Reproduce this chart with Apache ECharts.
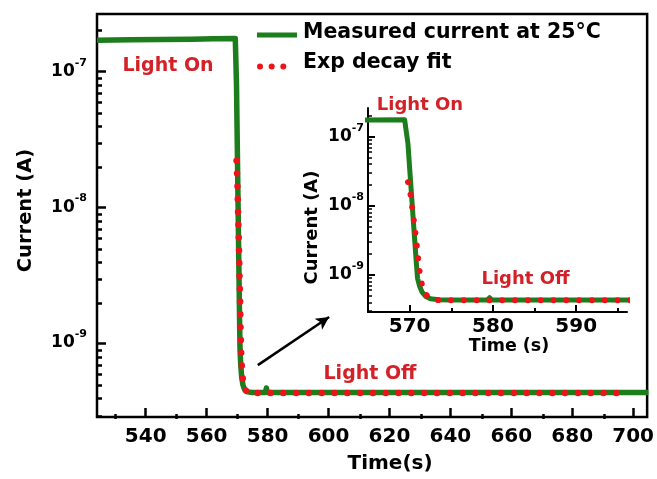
<!DOCTYPE html>
<html>
<head>
<meta charset="utf-8">
<script src="https://cdn.jsdelivr.net/npm/echarts@6/dist/echarts.min.js"></script>
<style>
  html, body { margin: 0; padding: 0; background: #ffffff; }
  #chart { width: 657px; height: 479px; }
</style>
</head>
<body>
<div id="chart"></div>
<script>
// Photocurrent transient: measured current and exponential-decay fit (seconds, amperes)
const measuredTime = [524, 535, 545, 555, 562, 569.4, 569.6, 569.8, 570.0, 570.2, 570.4, 570.6, 570.8, 570.95,
  571.2, 571.5, 571.9, 572.5, 573.5, 575, 578, 579.3, 579.6, 579.9, 582, 590, 600, 620, 650, 680, 705];
const measuredCurrent = [1.70e-7, 1.71e-7, 1.72e-7, 1.73e-7, 1.74e-7, 1.75e-7, 1.75e-7, 7.9e-8, 3.5e-8, 1.6e-8,
  7.2e-9, 3.3e-9, 1.5e-9, 8.9e-10, 6.8e-10, 5.6e-10, 4.9e-10, 4.5e-10, 4.35e-10, 4.3e-10, 4.3e-10, 4.3e-10,
  4.65e-10, 4.3e-10, 4.3e-10, 4.3e-10, 4.3e-10, 4.3e-10, 4.3e-10, 4.3e-10, 4.3e-10];

const fitTime = [569.8, 570.1, 570.3, 570.5, 570.7, 570.9, 571.1, 571.3, 571.6, 572.0, 572.5, 573.3, 575, 580,
  600, 650, 696];
const fitCurrent = [2.2e-8, 1.45e-8, 9.5e-9, 6.3e-9, 4.0e-9, 2.4e-9, 1.4e-9, 8.9e-10, 6.3e-10, 5.1e-10, 4.6e-10,
  4.3e-10, 4.27e-10, 4.27e-10, 4.27e-10, 4.27e-10, 4.27e-10];

// Tick positions
const mainTimeTicks = [540, 560, 580, 600, 620, 640, 660, 680, 700];
const mainTimeMinor = [530, 550, 570, 590, 610, 630, 650, 670, 690];
const insetTimeTicks = [570, 580, 590];
const insetTimeMinor = [575, 585, 595];
const currentTicks = [1e-9, 1e-8, 1e-7];
const currentMinor = [3e-10, 4e-10, 5e-10, 6e-10, 7e-10, 8e-10, 9e-10,
  2e-9, 3e-9, 4e-9, 5e-9, 6e-9, 7e-9, 8e-9, 9e-9,
  2e-8, 3e-8, 4e-8, 5e-8, 6e-8, 7e-8, 8e-8, 9e-8, 2e-7];

const legendNames = ['Measured current at 25\u00B0C', 'Exp decay fit'];

const GREEN = '#1b7d1b';
const RED = '#ec1419';
const LABEL_RED = '#d42128';
const FONT = '"DejaVu Sans", sans-serif';

const zip = (xs, ys) => xs.map((x, i) => [x, ys[i]]);
const measuredData = zip(measuredTime, measuredCurrent);
const fitData = zip(fitTime, fitCurrent);

const powerLabel = {
  formatter: v => '{b|10}{s|' + Math.round(Math.log10(v)) + '}',
  rich: {
    b: { fontSize: 17, fontWeight: 'bold', fontFamily: FONT, color: '#000', lineHeight: 28 },
    s: { fontSize: 11, fontWeight: 'bold', fontFamily: FONT, color: '#000', lineHeight: 11, verticalAlign: 'top' }
  }
};

function timeAxis(grid, min, max, ticks, opts) {
  return Object.assign({
    type: 'value', gridIndex: grid, min: min, max: max,
    splitLine: { show: false },
    axisLine: { show: false },
    axisTick: { show: true, inside: true, length: 9, customValues: ticks, lineStyle: { color: '#000', width: 2.5 } },
    axisLabel: { show: true, customValues: ticks, color: '#000', fontSize: 20, fontWeight: 'bold', fontFamily: FONT, margin: 10 }
  }, opts || {});
}
function currentAxis(grid, min, max, ticks, opts) {
  return Object.assign({
    type: 'log', logBase: 10, gridIndex: grid, min: min, max: max,
    splitLine: { show: false },
    axisLine: { show: false },
    axisTick: { show: true, inside: true, length: 9, customValues: ticks, lineStyle: { color: '#000', width: 2.5 } },
    axisLabel: Object.assign({ show: true, customValues: ticks, margin: 10 }, powerLabel)
  }, opts || {});
}
function minorAxis(base, ticks, len, width) {
  const a = Object.assign({}, base);
  a.name = '';
  a.axisLine = { show: false };
  a.axisLabel = { show: false };
  a.axisTick = { show: true, inside: true, length: len, customValues: ticks, lineStyle: { color: '#000', width: width } };
  return a;
}

const MAIN = { left: 97, top: 14, width: 552, height: 405 };
const INSET = { left: 368, top: 108, width: 259, height: 204 };

const mainX = timeAxis(0, 524, 704.6, mainTimeTicks, {
  name: 'Time(s)', nameLocation: 'middle', nameGap: 37,
  nameTextStyle: { fontSize: 20, fontWeight: 'bold', fontFamily: FONT, color: '#000', padding: [0, 0, 0, 36] }
});
const mainY = currentAxis(0, 2.84e-10, 2.65e-7, currentTicks, {
  name: 'Current (A)', nameLocation: 'middle', nameGap: 61,
  nameTextStyle: { fontSize: 19.5, fontWeight: 'bold', fontFamily: FONT, color: '#000', padding: [0, 0, 0, 10] }
});
const insetX = timeAxis(2, 565, 596.1, insetTimeTicks, {
  axisLine: { show: true, lineStyle: { color: '#000', width: 2 } },
  axisTick: { show: true, inside: true, length: 7, customValues: insetTimeTicks, lineStyle: { color: '#000', width: 2 } },
  axisLabel: { show: true, customValues: insetTimeTicks, color: '#000', fontSize: 20, fontWeight: 'bold', fontFamily: FONT, margin: 5 },
  name: 'Time (s)', nameLocation: 'middle', nameGap: 24,
  nameTextStyle: { fontSize: 17.5, fontWeight: 'bold', fontFamily: FONT, color: '#000', padding: [0, 0, 0, 23] }
});
const insetY = currentAxis(2, 2.89e-10, 2.6e-7, currentTicks, {
  axisLine: { show: true, lineStyle: { color: '#000', width: 2 } },
  axisTick: { show: true, inside: true, length: 7, customValues: currentTicks, lineStyle: { color: '#000', width: 2 } },
  axisLabel: Object.assign({ show: true, customValues: currentTicks, margin: 4 }, powerLabel),
  name: 'Current (A)', nameLocation: 'middle', nameGap: 47,
  nameTextStyle: { fontSize: 18, fontWeight: 'bold', fontFamily: FONT, color: '#000', padding: [0, 35, 0, 0] }
});

const mainXMinor = minorAxis(mainX, mainTimeMinor, 5, 2.5); mainXMinor.gridIndex = 1;
const mainYMinor = minorAxis(mainY, currentMinor, 5, 2.5); mainYMinor.gridIndex = 1;
const insetXMinor = minorAxis(insetX, insetTimeMinor, 4, 2); insetXMinor.gridIndex = 3;
const insetYMinor = minorAxis(insetY, currentMinor, 4, 1.5); insetYMinor.gridIndex = 3;

function measuredSeries(xi, width) {
  return {
    type: 'line', xAxisIndex: xi, yAxisIndex: xi, data: measuredData,
    showSymbol: false, symbol: 'none', clip: true, z: 2,
    lineStyle: { color: GREEN, width: width, join: 'round' }
  };
}
function fitSeries(xi, width) {
  return {
    type: 'line', xAxisIndex: xi, yAxisIndex: xi, data: fitData,
    showSymbol: false, symbol: 'none', clip: true, z: 3,
    lineStyle: { color: RED, width: width, type: [0.01, 12.8], cap: 'round' }
  };
}

const mainMeasured = measuredSeries(0, 5.5);
mainMeasured.name = legendNames[0];
mainMeasured.markLine = {
  silent: true, animation: false,
  symbol: ['none', 'arrow'], symbolSize: [10, 13],
  label: { show: false },
  lineStyle: { color: '#000', width: 2.5, type: 'solid' },
  data: [[{ coord: [576.8, 6.85e-10] }, { coord: [600.2, 1.55e-9] }]]
};
const mainFit = fitSeries(0, 6.5);
mainFit.name = legendNames[1];

function label(text, x, y, size) {
  return {
    type: 'text', x: x, y: y, z: 10,
    style: { text: text, fill: LABEL_RED, font: 'bold ' + size + 'px ' + FONT, align: 'center', verticalAlign: 'middle' }
  };
}

const chart = echarts.init(document.getElementById('chart'), null, { renderer: 'canvas' });
chart.setOption({
  animation: false,
  backgroundColor: '#ffffff',
  grid: [
    Object.assign({ show: true, borderColor: '#000', borderWidth: 2.5, backgroundColor: 'transparent' }, MAIN),
    Object.assign({ show: false }, MAIN),
    Object.assign({ show: false }, INSET),
    Object.assign({ show: false }, INSET)
  ],
  xAxis: [mainX, mainXMinor, insetX, insetXMinor],
  yAxis: [mainY, mainYMinor, insetY, insetYMinor],
  series: [mainMeasured, mainFit, measuredSeries(2, 5), fitSeries(2, 6)],
  graphic: [
    // legend
    { type: 'rect', shape: { x: 257, y: 32.5, width: 40, height: 5 }, style: { fill: GREEN }, z: 10 },
    { type: 'circle', shape: { cx: 260, cy: 66.5, r: 3 }, style: { fill: RED }, z: 10 },
    { type: 'circle', shape: { cx: 271.7, cy: 66.5, r: 3 }, style: { fill: RED }, z: 10 },
    { type: 'circle', shape: { cx: 283.3, cy: 66.5, r: 3 }, style: { fill: RED }, z: 10 },
    { type: 'text', x: 303, y: 33, z: 10, style: { text: legendNames[0], fill: '#000', font: 'bold 20.5px ' + FONT, align: 'left', verticalAlign: 'middle' } },
    { type: 'text', x: 303, y: 63, z: 10, style: { text: legendNames[1], fill: '#000', font: 'bold 20.5px ' + FONT, align: 'left', verticalAlign: 'middle' } },
    // state annotations
    label('Light On', 168, 66.5, 19),
    label('Light Off', 370, 374, 19),
    label('Light On', 420, 105.5, 18),
    label('Light Off', 525.5, 279.5, 18)
  ]
});
</script>
</body>
</html>
